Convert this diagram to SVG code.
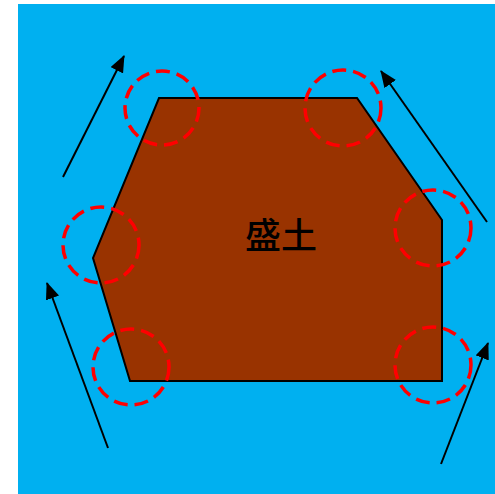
<svg xmlns="http://www.w3.org/2000/svg" width="495" height="494" viewBox="0 0 495 494">
<defs>
<style>
.c{fill:none;stroke:#FF0000;stroke-width:3.5;stroke-dasharray:14 7}
.a{stroke:#000;stroke-width:2;fill:none;marker-end:url(#ah)}
</style>
<marker id="ah" markerWidth="8.5" markerHeight="7" refX="8" refY="3.5" orient="auto" markerUnits="strokeWidth">
<path d="M0,0 L8.5,3.5 L0,7 Z" fill="#000"/>
</marker>
</defs>
<rect x="18" y="4" width="477" height="490" fill="#00B0F0"/>
<g id="embankment">
<polygon points="159,98 357,98 442,220 442,381 130,381 93,258" fill="#993300" stroke="#000" stroke-width="2"/>
<text x="281" y="249" font-family="Noto Sans CJK JP, Noto Sans CJK SC, sans-serif" font-size="36" font-weight="500" text-anchor="middle" fill="#000">盛土</text>
</g>
<g id="circles">
<circle class="c" cx="162" cy="108" r="37"/>
<circle class="c" cx="343" cy="108" r="38"/>
<circle class="c" cx="101" cy="245" r="38"/>
<circle class="c" cx="433" cy="228" r="38"/>
<circle class="c" cx="131" cy="367" r="38"/>
<circle class="c" cx="433" cy="365" r="38"/>
</g>
<g id="connectors">
<line class="a" x1="63" y1="177" x2="124" y2="56"/>
<line class="a" x1="487" y1="222" x2="381" y2="71"/>
<line class="a" x1="108" y1="448" x2="47" y2="283"/>
<line class="a" x1="441" y1="464" x2="488" y2="343"/>
</g>
</svg>
